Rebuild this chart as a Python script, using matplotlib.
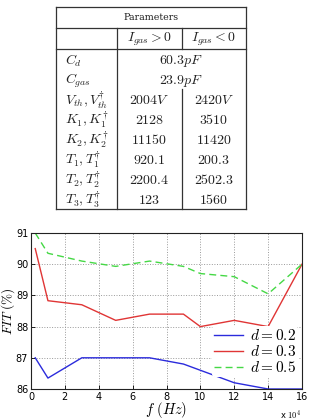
import matplotlib
matplotlib.use('Agg')
import matplotlib.pyplot as plt

plt.rcParams['mathtext.fontset'] = 'cm'
plt.rcParams['font.family'] = ['DejaVu Sans']

# table contents
row_labels = [r'$C_d$', r'$C_{gas}$', r'$V_{th}, V_{th}^{\dagger}$', r'$K_1, K_1^{\dagger}$',
              r'$K_2, K_2^{\dagger}$', r'$T_1, T_1^{\dagger}$', r'$T_2, T_2^{\dagger}$',
              r'$T_3, T_3^{\dagger}$']
col_headers = [r'$I_{gas} > 0$', r'$I_{gas} < 0$']
pos_values = [r'$60.3pF$', r'$23.9pF$', r'$2004V$', r'$2128$', r'$11150$', r'$920.1$', r'$2200.4$', r'$123$']
neg_values = [None, None, r'$2420V$', r'$3510$', r'$11420$', r'$200.3$', r'$2502.3$', r'$1560$']

# FIT curves
freq = [0.25, 1, 3, 5, 7, 9, 10, 12, 14, 16]  # x 10^4 Hz
fit_d02 = [87.0, 86.35, 87.0, 87.0, 87.0, 86.8, 86.6, 86.2, 86.0, 86.0]
fit_d03 = [90.5, 88.83, 88.7, 88.2, 88.4, 88.4, 88.0, 88.2, 88.0, 90.0]
fit_d05 = [91.0, 90.35, 90.1, 89.93, 90.1, 89.93, 89.7, 89.6, 89.05, 90.0]

W, H = 309, 420
fig = plt.figure(figsize=(W / 100, H / 100), dpi=100, facecolor='white')

# --- table drawn in pixel coordinates ---
tab = fig.add_axes([0, 0, 1, 1], facecolor='none')
tab.set_xlim(0, W)
tab.set_ylim(H, 0)
tab.axis('off')

lc = '#333333'
lw = 0.9
x_left, x_lab, x_mid, x_right = 56, 117, 181.5, 246
y_top, y_hdr1, y_hdr2, y_bot = 7, 28, 49, 209
for yy in [y_top, y_hdr1, y_hdr2, y_bot]:
    tab.plot([x_left, x_right], [yy, yy], color=lc, lw=lw)
tab.plot([x_left, x_left], [y_top, y_bot], color=lc, lw=lw)
tab.plot([x_right, x_right], [y_top, y_bot], color=lc, lw=lw)
tab.plot([x_lab, x_lab], [y_hdr1, y_bot], color=lc, lw=lw)
tab.plot([x_mid, x_mid], [y_hdr1, y_hdr2], color=lc, lw=lw)
tab.plot([x_mid, x_mid], [89, y_bot], color=lc, lw=lw)

tab.text((x_left + x_right) / 2, 18, 'Parameters', family='DejaVu Serif', fontsize=6.8,
         ha='center', va='center', color='#222222')
c1 = (x_lab + x_mid) / 2
c2 = (x_mid + x_right) / 2
tab.text(c1, 39, col_headers[0], fontsize=10, ha='center', va='center', color='#222222')
tab.text(c2, 39, col_headers[1], fontsize=10, ha='center', va='center', color='#222222')

row_y = [61, 81, 100, 120, 140, 160, 180, 200]
for i, yy in enumerate(row_y):
    tab.text(65, yy, row_labels[i], fontsize=10, ha='left', va='center', color='#222222')
    if neg_values[i] is None:
        tab.text((x_lab + x_right) / 2, yy, pos_values[i], fontsize=10, ha='center',
                 va='center', color='#222222')
    else:
        tab.text(c1, yy, pos_values[i], fontsize=10, ha='center', va='center', color='#222222')
        tab.text(c2, yy, neg_values[i], fontsize=10, ha='center', va='center', color='#222222')

# --- FIT plot ---
ax = fig.add_axes([31 / W, 31 / H, 271 / W, 156 / H])
ax.plot(freq, fit_d02, color='#2b2bdc', lw=1.0, label=r'$d = 0.2$')
ax.plot(freq, fit_d03, color='#e03535', lw=1.0, label=r'$d = 0.3$')
ax.plot(freq, fit_d05, color='#45d845', lw=1.0, ls=(0, (5, 3)), label=r'$d = 0.5$')

ax.set_xlim(0, 16)
ax.set_ylim(86, 91)
ax.set_xticks(range(0, 17, 2))
ax.set_yticks([86, 87, 88, 89, 90, 91])
ax.tick_params(labelsize=7, direction='in', length=3, width=0.6, pad=2)
ax.grid(True, ls=':', color='#999999', lw=0.7)
for s in ax.spines.values():
    s.set_linewidth(0.8)
    s.set_color('#222222')

ax.set_xlabel(r'$f\ (Hz)$', fontsize=10.5, labelpad=-1)
ax.set_ylabel(r'$FIT\ (\%)$', fontsize=9.5)
ax.yaxis.set_label_coords(-0.05, 0.5)
fig.text(291 / W, 1 - 415 / H, r'x $10^4$', fontsize=6, ha='center', va='center')

leg = ax.legend(loc='lower right', bbox_to_anchor=(0.985, 0.075), fontsize=11, frameon=True,
                handlelength=1.9, handletextpad=0.4, labelspacing=0.05, borderpad=0.15,
                borderaxespad=0)
leg.get_frame().set_edgecolor('none')
leg.get_frame().set_facecolor('white')
leg.get_frame().set_alpha(1)

fig.savefig('out.png', dpi=100, facecolor='white')
